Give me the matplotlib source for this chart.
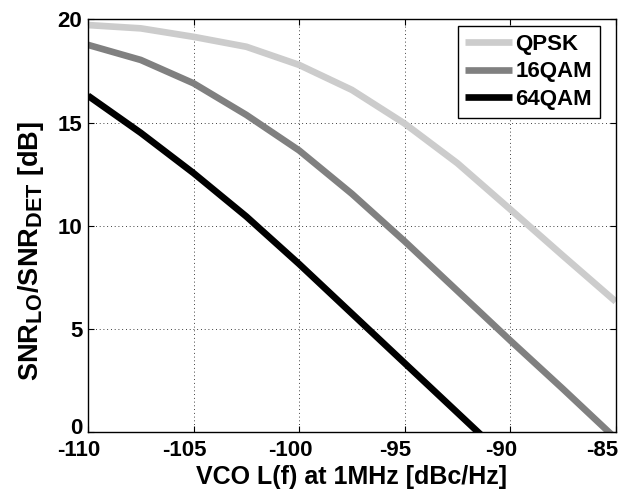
"""SNR ratio versus VCO phase noise for three modulations."""

import matplotlib
matplotlib.use("Agg")
import matplotlib.pyplot as plt
import matplotlib.transforms as mtransforms
import matplotlib._mathtext as mathtext_internals

plt.rcParams["font.family"] = ["Liberation Sans", "DejaVu Sans"]
plt.rcParams["font.weight"] = "bold"
plt.rcParams["axes.unicode_minus"] = False
plt.rcParams["mathtext.fontset"] = "custom"
plt.rcParams["mathtext.rm"] = "Liberation Sans:bold"
plt.rcParams["mathtext.bf"] = "Liberation Sans:bold"
plt.rcParams["mathtext.default"] = "bf"
# MATLAB-style subscripts are larger than the mathtext default
mathtext_internals.SHRINK_FACTOR = 0.8

# phase noise at 1 MHz offset [dBc/Hz]
vco_noise = [-110, -107.5, -105, -102.5, -100, -97.5, -95, -92.5, -90, -87.5, -85]

# required SNR_LO / SNR_DET [dB]
snr_qpsk = [19.72, 19.56, 19.15, 18.67, 17.79, 16.58, 14.95, 13.03, 10.8, 8.55, 6.33]
snr_16qam = [18.76, 18.03, 16.9, 15.37, 13.65, 11.55, 9.25, 6.85, 4.45, 2.1, -0.3]
snr_64qam = [16.3, 14.5, 12.55, 10.45, 8.15, 5.75, 3.35, 0.95, -1.45, -3.85, -6.25]

labels = ["QPSK", "16QAM", "64QAM"]
colors = ["#cccccc", "#808080", "#000000"]

xticks = [-110, -105, -100, -95, -90, -85]
yticks = [0, 5, 10, 15, 20]

fig = plt.figure(figsize=(6.22, 4.93), dpi=100)
ax = fig.add_axes([0.1415, 0.1231, 0.8484, 0.8378])

for ys, lab, col in zip([snr_qpsk, snr_16qam, snr_64qam], labels, colors):
    ax.plot(vco_noise, ys, color=col, linewidth=4.8, label=lab,
            solid_capstyle="butt", solid_joinstyle="miter")

ax.set_xlim(-110, -85)
ax.set_ylim(0, 20)
ax.set_xticks(xticks)
ax.set_yticks(yticks)
ax.grid(True, color="k", linestyle=(0, (1, 3.5)), linewidth=0.6)

ax.tick_params(direction="in", top=True, right=True, length=4, width=0.8,
               labelsize=16)
ax.tick_params(axis="x", pad=5.5)
ax.tick_params(axis="y", pad=4)
for s in ax.spines.values():
    s.set_linewidth(1.0)

# MATLAB puts the x tick labels a little left of their ticks
shift = mtransforms.ScaledTranslation(-0.09, 0, fig.dpi_scale_trans)
xlabels = ax.get_xticklabels()
for lbl in xlabels:
    lbl.set_transform(lbl.get_transform() + shift)
xlabels[-1].set_transform(xlabels[-1].get_transform()
                          + mtransforms.ScaledTranslation(-0.05, 0, fig.dpi_scale_trans))

# lift the "0" a little so it sits above "-110"
ylabels = ax.get_yticklabels()
ylabels[0].set_transform(ylabels[0].get_transform()
                         + mtransforms.ScaledTranslation(0, 0.06, fig.dpi_scale_trans))

ax.set_xlabel("VCO L(f) at 1MHz [dBc/Hz]", fontsize=18, fontweight="bold", labelpad=3)
ax.set_ylabel("SNR$_{LO}$/SNR$_{DET}$ [dB]", fontsize=19.5, fontweight="bold")
ax.yaxis.set_label_coords(-0.08, 0.44)

leg = ax.legend(loc="upper right", bbox_to_anchor=(0.970, 0.984), borderaxespad=0,
                fontsize=16, handlelength=2.1, handletextpad=0.15,
                labelspacing=0.3, borderpad=0.35, fancybox=False,
                framealpha=1, edgecolor="k")
leg.get_frame().set_linewidth(1.0)

fig.savefig("out.png", dpi=100)
